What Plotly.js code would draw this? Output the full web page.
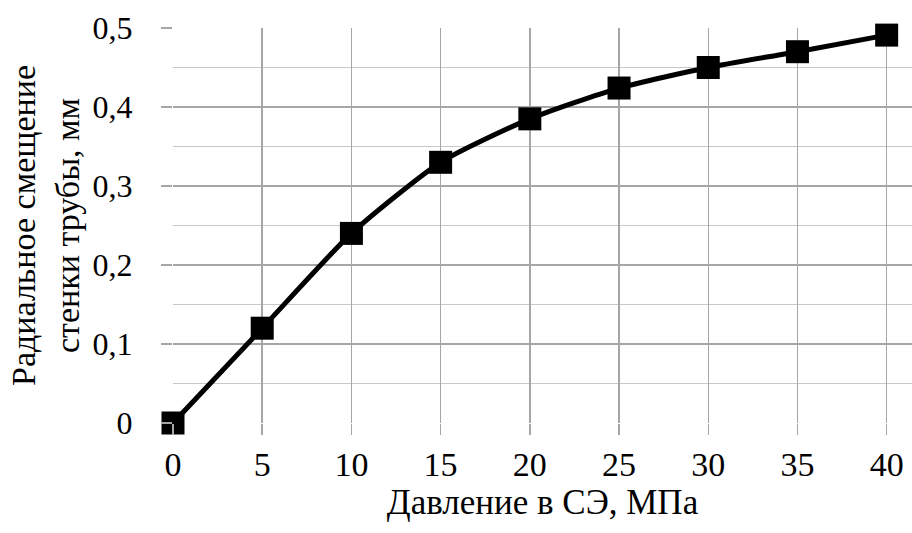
<!DOCTYPE html>
<html><head><meta charset="utf-8">
<script src="https://cdn.plot.ly/plotly-3.0.1.min.js"></script>
<style>html,body{margin:0;padding:0;background:#fff}</style>
</head><body>
<div id="chart" style="width:912px;height:533px"></div>
<script>
const pressure = [0, 5, 10, 15, 20, 25, 30, 35, 40];
const displacement = [0, 0.12, 0.24, 0.33, 0.385, 0.424, 0.45, 0.47, 0.491];
const yTickVals = [0, 0.1, 0.2, 0.3, 0.4, 0.5];
const yTickText = ['0', '0,1', '0,2', '0,3', '0,4', '0,5'];
const xTickVals = [0, 5, 10, 15, 20, 25, 30, 35, 40];

const font = '"Liberation Serif", "Times New Roman", serif';
Plotly.newPlot('chart', [{
  x: pressure, y: displacement, type: 'scatter', mode: 'lines+markers',
  line: {color: '#000', width: 5, shape: 'spline', smoothing: 0.6},
  marker: {symbol: 'square', size: 23, color: '#000'},
  cliponaxis: false, showlegend: false
}], {
  width: 912, height: 533,
  margin: {l: 173, r: 0, t: 28, b: 110},
  paper_bgcolor: '#fff', plot_bgcolor: '#fff',
  font: {family: font, color: '#000', size: 34},
  xaxis: {
    range: [0, 41.42], tickvals: xTickVals, ticktext: xTickVals.map(String),
    showgrid: true, gridcolor: '#a6a6a6', gridwidth: 1.5,
    ticks: 'outside', ticklen: 11, tickcolor: '#a6a6a6', tickwidth: 1.5,
    zeroline: false, showline: false, automargin: false,
    tickfont: {family: font, size: 34},
    title: {text: 'Давление в СЭ, МПа', font: {family: font, size: 35}, standoff: 4}
  },
  yaxis: {
    range: [0, 0.5], tickvals: yTickVals, ticktext: yTickText,
    showgrid: true, gridcolor: '#a6a6a6', gridwidth: 1.5,
    minor: {dtick: 0.05, tick0: 0, showgrid: true, gridcolor: '#c8c8c8', gridwidth: 1.2, ticks: ''},
    ticks: 'outside', ticklen: 11, tickcolor: '#a6a6a6', tickwidth: 1.5,
    ticklabelstandoff: 22,
    zeroline: false, showline: false, automargin: false,
    tickfont: {family: font, size: 32},
    title: {text: 'Радиальное смещение<br>стенки трубы, мм', font: {family: font, size: 34}, standoff: 2}
  }
}, {displayModeBar: false, staticPlot: true});
</script>
</body></html>
